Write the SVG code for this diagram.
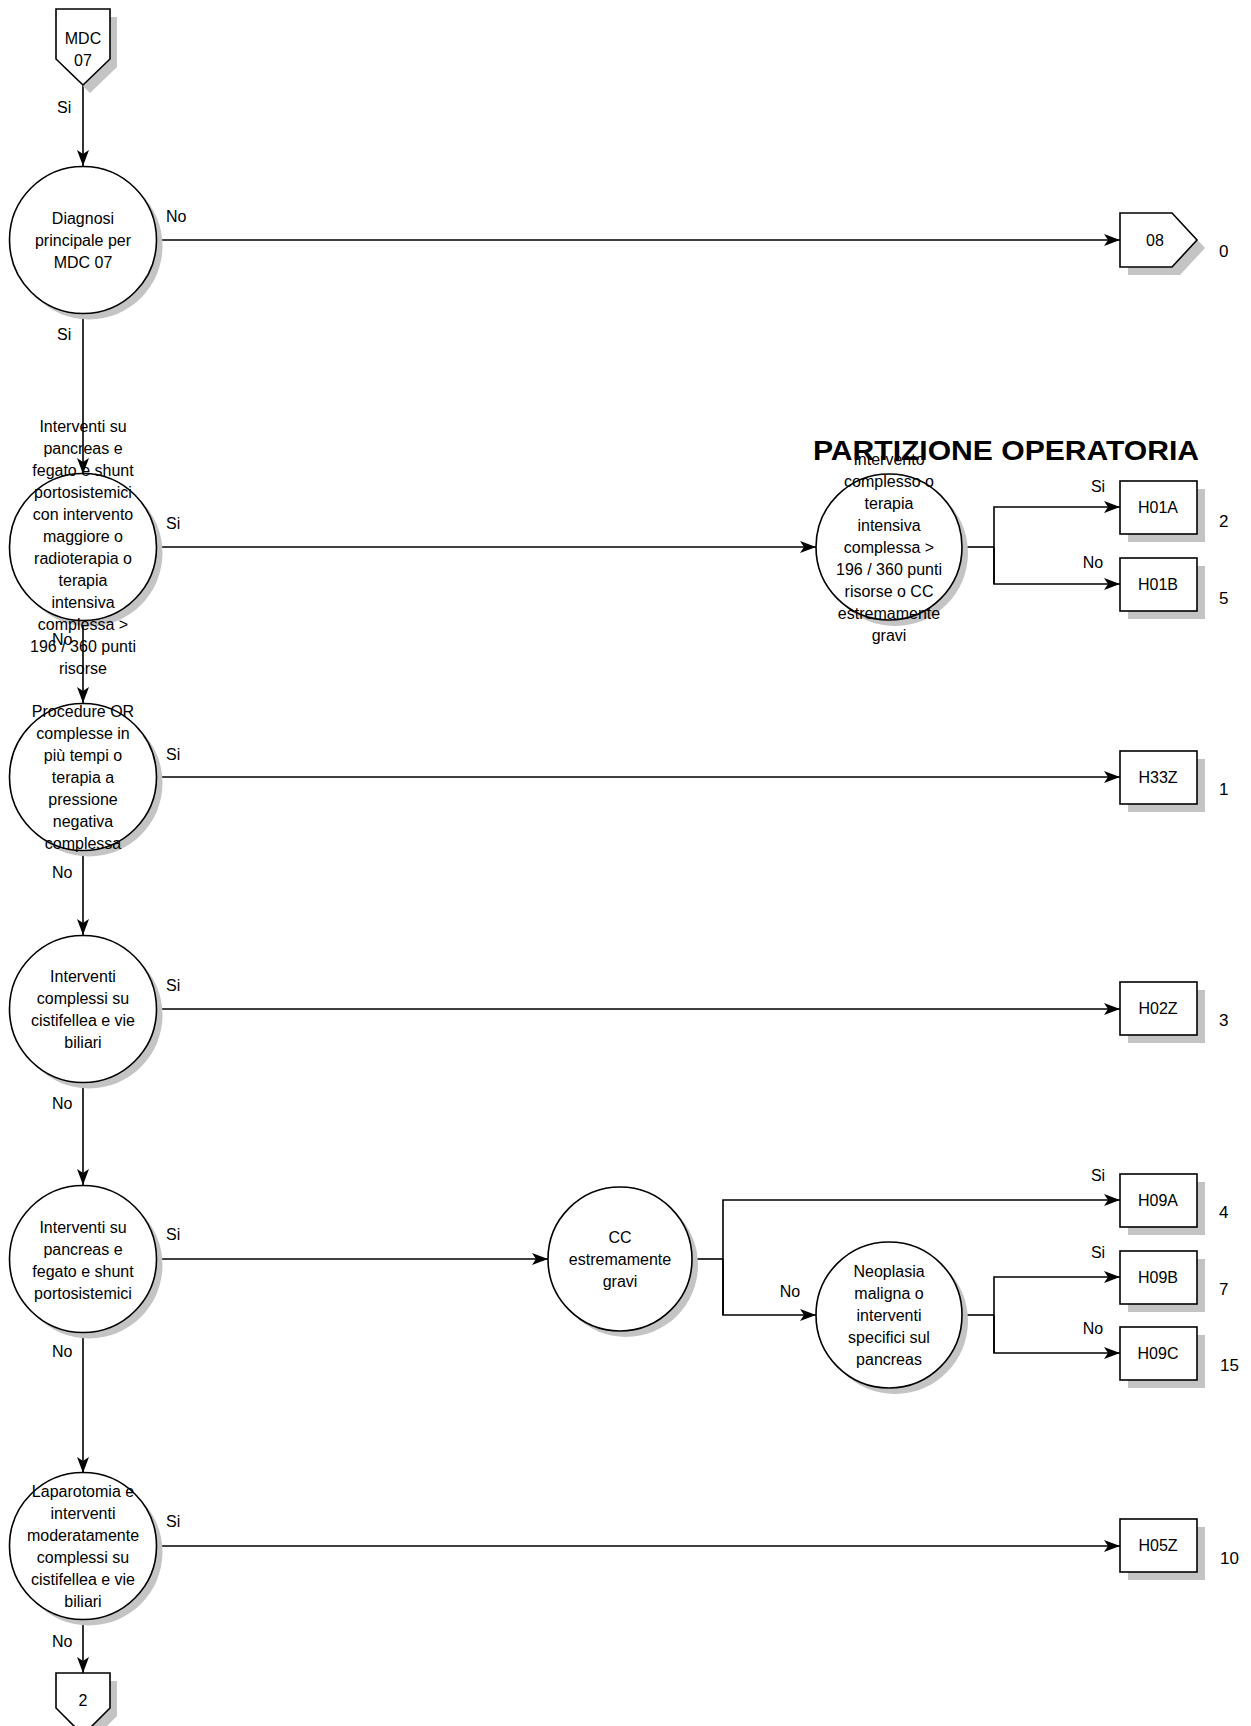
<svg xmlns="http://www.w3.org/2000/svg" width="1251" height="1726" viewBox="0 0 1251 1726">
<defs>
<marker id="arr" viewBox="0 0 16 12" refX="16" refY="6" markerWidth="16" markerHeight="12" markerUnits="userSpaceOnUse" orient="auto">
<path d="M0,0 L16,6 L0,12 L4,6 z" fill="#000"/>
</marker>
</defs>
<style>
text{font-family:"Liberation Sans",Arial,sans-serif;font-size:16px;fill:#000}
.c{text-anchor:middle}
.node{fill:#fff;stroke:#000;stroke-width:1.6}
.sh{fill:#c4c4c4;stroke:none}
.ln{fill:none;stroke:#000;stroke-width:1.6}
.num{font-size:17px}
.title{font-size:27px;font-weight:bold}
</style>
<rect width="1251" height="1726" fill="#fff"/>

<g id="connectors">
<line class="ln" x1="83" y1="85" x2="83" y2="166" marker-end="url(#arr)"/>
<line class="ln" x1="157" y1="240" x2="1120" y2="240" marker-end="url(#arr)"/>
<line class="ln" x1="83" y1="314" x2="83" y2="474" marker-end="url(#arr)"/>
<line class="ln" x1="157" y1="547" x2="816" y2="547" marker-end="url(#arr)"/>
<polyline class="ln" points="962,547 994,547"/>
<polyline class="ln" points="994,584 994,507 1120,507" marker-end="url(#arr)"/>
<polyline class="ln" points="994,547 994,584 1120,584" marker-end="url(#arr)"/>
<line class="ln" x1="83" y1="621" x2="83" y2="703" marker-end="url(#arr)"/>
<line class="ln" x1="157" y1="777" x2="1120" y2="777" marker-end="url(#arr)"/>
<line class="ln" x1="83" y1="851" x2="83" y2="935" marker-end="url(#arr)"/>
<line class="ln" x1="157" y1="1009" x2="1120" y2="1009" marker-end="url(#arr)"/>
<line class="ln" x1="83" y1="1083" x2="83" y2="1185" marker-end="url(#arr)"/>
<line class="ln" x1="157" y1="1259" x2="548" y2="1259" marker-end="url(#arr)"/>
<polyline class="ln" points="692,1259 723,1259"/>
<polyline class="ln" points="723,1315 723,1200 1120,1200" marker-end="url(#arr)"/>
<polyline class="ln" points="723,1259 723,1315 816,1315" marker-end="url(#arr)"/>
<polyline class="ln" points="962,1315 994,1315"/>
<polyline class="ln" points="994,1353 994,1277 1120,1277" marker-end="url(#arr)"/>
<polyline class="ln" points="994,1315 994,1353 1120,1353" marker-end="url(#arr)"/>
<line class="ln" x1="83" y1="1333" x2="83" y2="1473" marker-end="url(#arr)"/>
<line class="ln" x1="157" y1="1546" x2="1120" y2="1546" marker-end="url(#arr)"/>
<line class="ln" x1="83" y1="1620" x2="83" y2="1673" marker-end="url(#arr)"/>
</g>

<g id="labels">
<text x="57" y="113">Si</text>
<text x="166" y="222">No</text>
<text x="57" y="340">Si</text>
<text x="166" y="529">Si</text>
<text x="52" y="645">No</text>
<text x="166" y="760">Si</text>
<text x="52" y="878">No</text>
<text x="166" y="991">Si</text>
<text x="52" y="1109">No</text>
<text x="166" y="1240">Si</text>
<text x="52" y="1357">No</text>
<text x="166" y="1527">Si</text>
<text x="52" y="1647">No</text>
<text class="c" x="1098" y="492">Si</text>
<text class="c" x="1093" y="568">No</text>
<text class="c" x="1098" y="1181">Si</text>
<text class="c" x="790" y="1297">No</text>
<text class="c" x="1098" y="1258">Si</text>
<text class="c" x="1093" y="1334">No</text>
<text class="num" x="1219" y="257">0</text>
<text class="num" x="1219" y="527">2</text>
<text class="num" x="1219" y="604">5</text>
<text class="num" x="1219" y="795">1</text>
<text class="num" x="1219" y="1026">3</text>
<text class="num" x="1219" y="1218">4</text>
<text class="num" x="1219" y="1295">7</text>
<text class="num" x="1220" y="1371">15</text>
<text class="num" x="1220" y="1564">10</text>
</g>

<g id="mdc07">
<polygon class="sh" points="63,17 117,17 117,67 90,93 63,67"/>
<polygon class="node" points="56,9 110,9 110,59 83,85 56,59"/>
<text class="c" x="83" y="44">MDC</text>
<text class="c" x="83" y="66">07</text>
</g>

<g id="n-diagnosi">
<circle class="sh" cx="89" cy="246" r="73.5"/>
<circle class="node" cx="83" cy="240" r="73.5"/>
<text class="c" x="83" y="224">Diagnosi</text>
<text class="c" x="83" y="246">principale per</text>
<text class="c" x="83" y="268">MDC 07</text>
</g>

<g id="n-08">
<polygon class="sh" points="1128,221 1180,221 1205,248 1180,275 1128,275"/>
<polygon class="node" points="1120,213 1172,213 1197,240 1172,267 1120,267"/>
<text class="c" x="1155" y="246">08</text>
</g>

<g id="n-pancreas-maggiore">
<circle class="sh" cx="89" cy="553" r="73.5"/>
<circle class="node" cx="83" cy="547" r="73.5"/>
<text class="c" x="83" y="432">Interventi su</text>
<text class="c" x="83" y="454">pancreas e</text>
<text class="c" x="83" y="476">fegato e shunt</text>
<text class="c" x="83" y="498">portosistemici</text>
<text class="c" x="83" y="520">con intervento</text>
<text class="c" x="83" y="542">maggiore o</text>
<text class="c" x="83" y="564">radioterapia o</text>
<text class="c" x="83" y="586">terapia</text>
<text class="c" x="83" y="608">intensiva</text>
<text class="c" x="83" y="630">complessa &gt;</text>
<text class="c" x="83" y="652">196 / 360 punti</text>
<text class="c" x="83" y="674">risorse</text>
</g>

<g id="n-intervento-complesso">
<circle class="sh" cx="895" cy="553" r="73"/>
<circle class="node" cx="889" cy="547" r="73"/>
<text class="c" x="889" y="465">Intervento</text>
<text class="c" x="889" y="487">complesso o</text>
<text class="c" x="889" y="509">terapia</text>
<text class="c" x="889" y="531">intensiva</text>
<text class="c" x="889" y="553">complessa &gt;</text>
<text class="c" x="889" y="575">196 / 360 punti</text>
<text class="c" x="889" y="597">risorse o CC</text>
<text class="c" x="889" y="619">estremamente</text>
<text class="c" x="889" y="641">gravi</text>
</g>

<g id="title">
<text class="title c" x="1006" y="460" textLength="386" lengthAdjust="spacingAndGlyphs">PARTIZIONE OPERATORIA</text>
</g>

<g id="n-H01A">
<rect class="sh" x="1128" y="489" width="77" height="53"/>
<rect class="node" x="1120" y="481" width="77" height="53"/>
<text class="c" x="1158" y="513">H01A</text>
</g>
<g id="n-H01B">
<rect class="sh" x="1128" y="566" width="77" height="53"/>
<rect class="node" x="1120" y="558" width="77" height="53"/>
<text class="c" x="1158" y="590">H01B</text>
</g>

<g id="n-procedure-or">
<circle class="sh" cx="89" cy="783" r="73.5"/>
<circle class="node" cx="83" cy="777" r="73.5"/>
<text class="c" x="83" y="717">Procedure OR</text>
<text class="c" x="83" y="739">complesse in</text>
<text class="c" x="83" y="761">più tempi o</text>
<text class="c" x="83" y="783">terapia a</text>
<text class="c" x="83" y="805">pressione</text>
<text class="c" x="83" y="827">negativa</text>
<text class="c" x="83" y="849">complessa</text>
</g>
<g id="n-H33Z">
<rect class="sh" x="1128" y="759" width="77" height="53"/>
<rect class="node" x="1120" y="751" width="77" height="53"/>
<text class="c" x="1158" y="783">H33Z</text>
</g>

<g id="n-cistifellea">
<circle class="sh" cx="89" cy="1015" r="73.5"/>
<circle class="node" cx="83" cy="1009" r="73.5"/>
<text class="c" x="83" y="982">Interventi</text>
<text class="c" x="83" y="1004">complessi su</text>
<text class="c" x="83" y="1026">cistifellea e vie</text>
<text class="c" x="83" y="1048">biliari</text>
</g>
<g id="n-H02Z">
<rect class="sh" x="1128" y="990" width="77" height="53"/>
<rect class="node" x="1120" y="982" width="77" height="53"/>
<text class="c" x="1158" y="1014">H02Z</text>
</g>

<g id="n-pancreas">
<circle class="sh" cx="89" cy="1265" r="73.5"/>
<circle class="node" cx="83" cy="1259" r="73.5"/>
<text class="c" x="83" y="1233">Interventi su</text>
<text class="c" x="83" y="1255">pancreas e</text>
<text class="c" x="83" y="1277">fegato e shunt</text>
<text class="c" x="83" y="1299">portosistemici</text>
</g>

<g id="n-cc">
<circle class="sh" cx="626" cy="1265" r="72"/>
<circle class="node" cx="620" cy="1259" r="72"/>
<text class="c" x="620" y="1243">CC</text>
<text class="c" x="620" y="1265">estremamente</text>
<text class="c" x="620" y="1287">gravi</text>
</g>

<g id="n-neoplasia">
<circle class="sh" cx="895" cy="1321" r="73"/>
<circle class="node" cx="889" cy="1315" r="73"/>
<text class="c" x="889" y="1277">Neoplasia</text>
<text class="c" x="889" y="1299">maligna o</text>
<text class="c" x="889" y="1321">interventi</text>
<text class="c" x="889" y="1343">specifici sul</text>
<text class="c" x="889" y="1365">pancreas</text>
</g>

<g id="n-H09A">
<rect class="sh" x="1128" y="1182" width="77" height="53"/>
<rect class="node" x="1120" y="1174" width="77" height="53"/>
<text class="c" x="1158" y="1206">H09A</text>
</g>
<g id="n-H09B">
<rect class="sh" x="1128" y="1259" width="77" height="53"/>
<rect class="node" x="1120" y="1251" width="77" height="53"/>
<text class="c" x="1158" y="1283">H09B</text>
</g>
<g id="n-H09C">
<rect class="sh" x="1128" y="1335" width="77" height="53"/>
<rect class="node" x="1120" y="1327" width="77" height="53"/>
<text class="c" x="1158" y="1359">H09C</text>
</g>

<g id="n-laparotomia">
<circle class="sh" cx="89" cy="1552" r="73.5"/>
<circle class="node" cx="83" cy="1546" r="73.5"/>
<text class="c" x="83" y="1497">Laparotomia e</text>
<text class="c" x="83" y="1519">interventi</text>
<text class="c" x="83" y="1541">moderatamente</text>
<text class="c" x="83" y="1563">complessi su</text>
<text class="c" x="83" y="1585">cistifellea e vie</text>
<text class="c" x="83" y="1607">biliari</text>
</g>
<g id="n-H05Z">
<rect class="sh" x="1128" y="1527" width="77" height="53"/>
<rect class="node" x="1120" y="1519" width="77" height="53"/>
<text class="c" x="1158" y="1551">H05Z</text>
</g>

<g id="off-2">
<polygon class="sh" points="63,1681 117,1681 117,1716 90,1743 63,1716"/>
<polygon class="node" points="56,1673 110,1673 110,1708 83,1735 56,1708"/>
<text class="c" x="83" y="1706">2</text>
</g>
</svg>
